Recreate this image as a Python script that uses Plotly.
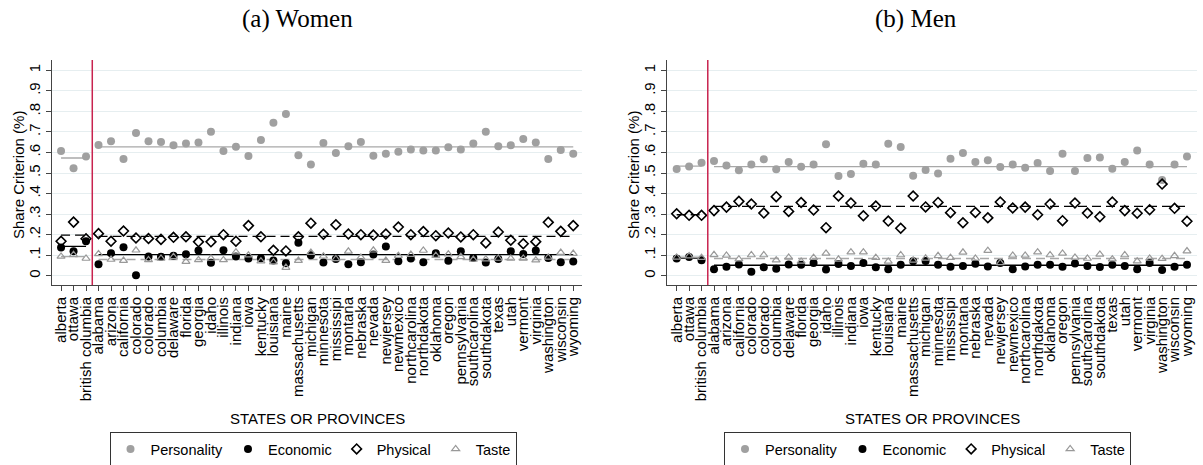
import plotly.graph_objects as go

categories = ["alberta", "ottawa", "british columbia", "alabama", "arizona", "california",
              "colorado", "colorado", "columbia", "delaware", "florida", "georgia", "idaho",
              "illinois", "indiana", "iowa", "kentucky", "louisiana", "maine", "massachusetts",
              "michigan", "minnesota", "mississipi", "montana", "nebraska", "nevada", "newjersey",
              "newmexico", "northcarolina", "northdakota", "oklahoma", "oregon", "pennsylvania",
              "southcarolina", "southdakota", "texas", "utah", "vermont", "virginia", "washington",
              "wisconsin", "wyoming"]

women_personality = [0.607, 0.523, 0.580, 0.636, 0.654, 0.568, 0.695, 0.654, 0.651, 0.635, 0.644, 0.648, 0.701,
                     0.607, 0.628, 0.583, 0.661, 0.745, 0.787, 0.586, 0.541, 0.646, 0.597, 0.630, 0.651, 0.584,
                     0.594, 0.604, 0.615, 0.609, 0.609, 0.625, 0.615, 0.644, 0.701, 0.630, 0.635, 0.666, 0.648,
                     0.568, 0.612, 0.594]
women_economic = [0.137, 0.119, 0.168, 0.056, 0.110, 0.139, 0.003, 0.094, 0.092, 0.097, 0.105, 0.123, 0.063,
                  0.124, 0.094, 0.084, 0.085, 0.074, 0.061, 0.161, 0.100, 0.065, 0.081, 0.056, 0.066, 0.103,
                  0.142, 0.071, 0.084, 0.066, 0.110, 0.073, 0.119, 0.087, 0.065, 0.082, 0.119, 0.106, 0.123,
                  0.087, 0.066, 0.069]
women_physical = [0.168, 0.261, 0.180, 0.205, 0.168, 0.218, 0.184, 0.181, 0.177, 0.187, 0.190, 0.165, 0.165,
                  0.200, 0.168, 0.244, 0.190, 0.124, 0.121, 0.190, 0.256, 0.202, 0.248, 0.203, 0.200, 0.198,
                  0.203, 0.237, 0.200, 0.215, 0.195, 0.208, 0.189, 0.200, 0.160, 0.213, 0.173, 0.156, 0.166,
                  0.260, 0.216, 0.244]
women_taste = [0.094, 0.102, 0.084, 0.106, 0.079, 0.074, 0.124, 0.077, 0.084, 0.092, 0.069, 0.077, 0.084,
               0.077, 0.115, 0.100, 0.071, 0.066, 0.040, 0.074, 0.113, 0.095, 0.082, 0.119, 0.089, 0.124,
               0.074, 0.098, 0.103, 0.123, 0.098, 0.105, 0.092, 0.079, 0.081, 0.084, 0.084, 0.084, 0.076,
               0.089, 0.113, 0.108]

men_personality = [0.519, 0.532, 0.550, 0.558, 0.536, 0.513, 0.542, 0.567, 0.518, 0.554, 0.531, 0.542, 0.640,
                   0.485, 0.495, 0.545, 0.541, 0.643, 0.627, 0.487, 0.515, 0.498, 0.570, 0.597, 0.554, 0.562,
                   0.529, 0.541, 0.526, 0.549, 0.510, 0.594, 0.510, 0.573, 0.575, 0.521, 0.554, 0.609, 0.542,
                   0.466, 0.542, 0.580]
men_economic = [0.084, 0.091, 0.075, 0.032, 0.044, 0.055, 0.019, 0.041, 0.034, 0.055, 0.054, 0.062, 0.031,
                0.057, 0.047, 0.062, 0.041, 0.032, 0.054, 0.071, 0.072, 0.054, 0.044, 0.047, 0.058, 0.045,
                0.062, 0.032, 0.045, 0.054, 0.054, 0.044, 0.060, 0.047, 0.042, 0.054, 0.047, 0.032, 0.062,
                0.028, 0.044, 0.054]
men_physical = [0.302, 0.294, 0.294, 0.317, 0.334, 0.362, 0.349, 0.305, 0.385, 0.313, 0.356, 0.320, 0.234,
                0.388, 0.354, 0.292, 0.339, 0.266, 0.231, 0.388, 0.335, 0.357, 0.307, 0.258, 0.308, 0.282,
                0.359, 0.330, 0.334, 0.297, 0.349, 0.268, 0.354, 0.305, 0.287, 0.359, 0.317, 0.304, 0.321,
                0.446, 0.328, 0.265]
men_taste = [0.089, 0.096, 0.088, 0.102, 0.099, 0.081, 0.101, 0.101, 0.076, 0.089, 0.070, 0.088, 0.109,
             0.080, 0.115, 0.115, 0.088, 0.070, 0.101, 0.075, 0.085, 0.097, 0.088, 0.114, 0.084, 0.122,
             0.063, 0.099, 0.099, 0.115, 0.101, 0.109, 0.089, 0.084, 0.104, 0.081, 0.101, 0.071, 0.084,
             0.083, 0.097, 0.120]

# group average levels: personality, economic, physical, taste
women_prov_mean = [0.573, 0.143, 0.198, 0.093]
women_us_mean = [0.627, 0.103, 0.192, 0.079]
men_prov_mean = [0.534, 0.086, 0.297, 0.091]
men_us_mean = [0.531, 0.051, 0.338, 0.084]

series_names = ["Personality", "Economic", "Physical", "Taste"]
y_ticks = [0, 0.1, 0.2, 0.3, 0.4, 0.5, 0.6, 0.7, 0.8, 0.9, 1.0]
y_ticktext = ["0", ".1", ".2", ".3", ".4", ".5", ".6", ".7", ".8", ".9", "1"]
n_prov = 3

W, H = 1203, 465
SANS = "Liberation Sans, Arial, sans-serif"
GRAY = "#a0a0a0"

idx = list(range(len(categories)))
prov_x = [idx[0], idx[n_prov - 1]]
us_x = [idx[n_prov], idx[-1]]

marker_styles = [
    dict(symbol="circle", size=8, color=GRAY, line=dict(width=0)),
    dict(symbol="circle", size=8, color="black", line=dict(width=0)),
    dict(symbol="diamond-open", size=7.5, color="black", line=dict(width=1.6, color="black")),
    dict(symbol="triangle-up-open", size=7, color="#999999", line=dict(width=1.2, color="#999999")),
]
line_styles = [
    dict(color="#a8a8a8", width=1.3, dash="solid"),
    dict(color="black", width=1.3, dash="solid"),
    dict(color="black", width=1.3, dash="9px,5px"),
    dict(color="#a8a8a8", width=1.3, dash="9px,5px"),
]

fig = go.Figure()

panels = [
    ("x", "y", "legend", [women_personality, women_economic, women_physical, women_taste],
     women_prov_mean, women_us_mean),
    ("x2", "y2", "legend2", [men_personality, men_economic, men_physical, men_taste],
     men_prov_mean, men_us_mean),
]

for xa, ya, lg, data, pm, um in panels:
    for k in range(4):
        fig.add_trace(go.Scatter(x=prov_x, y=[pm[k], pm[k]], mode="lines", line=line_styles[k],
                                 xaxis=xa, yaxis=ya, showlegend=False, hoverinfo="skip"))
        fig.add_trace(go.Scatter(x=us_x, y=[um[k], um[k]], mode="lines", line=line_styles[k],
                                 xaxis=xa, yaxis=ya, showlegend=False, hoverinfo="skip"))
    for k in range(4):
        fig.add_trace(go.Scatter(x=idx, y=data[k], mode="markers", name=series_names[k],
                                 marker=marker_styles[k], xaxis=xa, yaxis=ya, legend=lg,
                                 text=categories))

def px_x(p):
    return p / W

def px_y(p):
    return 1 - p / H

xcommon = dict(tickmode="array", tickvals=idx, ticktext=categories, tickangle=-90,
               tickfont=dict(family=SANS, size=15, color="black"), ticks="outside", ticklen=5,
               tickcolor="#444", showline=True, linecolor="#444", linewidth=1, showgrid=False,
               zeroline=False)
ycommon = dict(tickmode="array", tickvals=y_ticks, ticktext=y_ticktext, tickangle=-90,
               tickfont=dict(family=SANS, size=15, color="black"), ticks="outside", ticklen=5,
               tickcolor="#444", showline=True, linecolor="#444", linewidth=1, showgrid=True,
               gridcolor="#e6eef0", gridwidth=1, zeroline=False, range=[-0.045, 1.05])

ydom = [px_y(285), px_y(60)]
legend_common = dict(orientation="h", xanchor="center", y=px_y(432), yanchor="top",
                     bordercolor="#333", borderwidth=1,
                     font=dict(family=SANS, size=14.5, color="black"), bgcolor="white")
fig.update_layout(
    width=W, height=H,
    margin=dict(l=0, r=0, t=0, b=0, autoexpand=False),
    paper_bgcolor="white", plot_bgcolor="white",
    xaxis=dict(xcommon, domain=[px_x(52.3), px_x(582)], range=[-0.7, 41.7], anchor="y"),
    yaxis=dict(ycommon, domain=ydom, anchor="x"),
    xaxis2=dict(xcommon, domain=[px_x(666.7), px_x(1196.7)], range=[-0.8, 41.78], anchor="y2"),
    yaxis2=dict(ycommon, domain=ydom, anchor="x2"),
    legend=dict(legend_common, x=px_x(313)),
    legend2=dict(legend_common, x=px_x(927.5)),
    showlegend=True,
)

for xa in ["x", "x2"]:
    fig.add_shape(type="line", xref=xa, yref=("y" if xa == "x" else "y2") + " domain",
                  x0=n_prov - 0.5, x1=n_prov - 0.5, y0=0, y1=1,
                  line=dict(color="#c8234f", width=1.5))

annots = [
    dict(text="(a) Women", x=px_x(297), y=px_y(19), font=dict(family="Liberation Serif, serif", size=25)),
    dict(text="(b) Men", x=px_x(916), y=px_y(19), font=dict(family="Liberation Serif, serif", size=25)),
    dict(text="Share Criterion (%)", x=px_x(18), y=px_y(175), textangle=-90,
         font=dict(family=SANS, size=15)),
    dict(text="Share Criterion (%)", x=px_x(633), y=px_y(175), textangle=-90,
         font=dict(family=SANS, size=15)),
    dict(text="STATES OR PROVINCES", x=px_x(317), y=px_y(418), font=dict(family=SANS, size=15)),
    dict(text="STATES OR PROVINCES", x=px_x(932), y=px_y(418), font=dict(family=SANS, size=15)),
]
for a in annots:
    a.update(xref="paper", yref="paper", showarrow=False, xanchor="center", yanchor="middle")
    a["font"]["color"] = "black"
    fig.add_annotation(**a)

fig.write_html("out.html", config={"displayModeBar": False},
               post_script="document.body.style.margin='0px';document.body.style.overflow='hidden';")
